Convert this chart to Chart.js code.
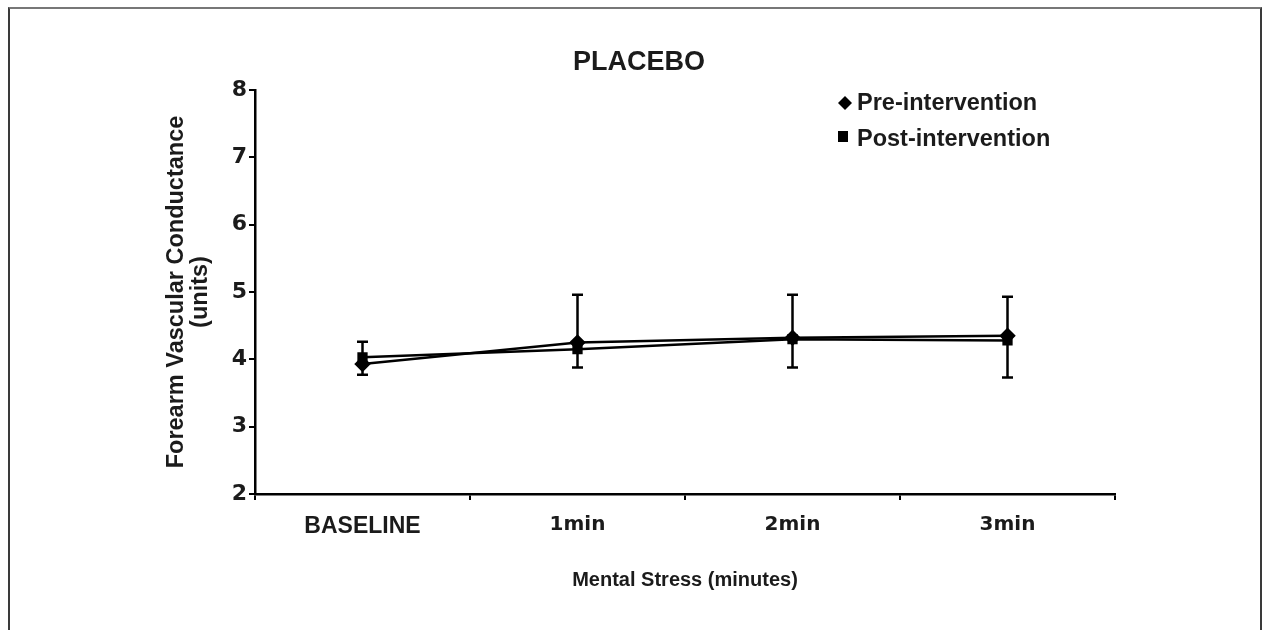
<!DOCTYPE html>
<html>
<head>
<meta charset="utf-8">
<script src="https://cdn.jsdelivr.net/npm/chart.js@4.4.0/dist/chart.umd.min.js"></script>
<style>
  body { margin: 0; background: #fff; }
  #wrap { position: relative; width: 1264px; height: 630px; overflow: hidden; }
  #marco { position: absolute; left: 8px; top: 7px; width: 1250px; height: 640px;
           border: 2px solid #3a3a3a; border-bottom: none; border-top-color: #777; }
  canvas { position: absolute; left: 0; top: 0; }
</style>
</head>
<body>
<div id="wrap">
  <div id="marco"></div>
  <canvas id="grafico" width="1264" height="630"></canvas>
</div>
<script>
//Datos del gráfico.
var categorias = ["BASELINE", "1min", "2min", "3min"];
var preIntervencion = [3.93, 4.25, 4.32, 4.35];
var postIntervencion = [4.03, 4.15, 4.30, 4.28];
var errorSuperior = [4.26, 4.96, 4.96, 4.93];
var errorInferior = [3.77, 3.88, 3.88, 3.73];
var ticksY = [2, 3, 4, 5, 6, 7, 8];

var tinta = '#1b1b1b';

//Barras de error, título y leyenda dibujados sobre el lienzo.
var extras = {
    id: 'extras',
    beforeDatasetsDraw: function(chart) {
        var ctx = chart.ctx;
        var x = chart.scales.x, y = chart.scales.y;
        ctx.save();
        ctx.strokeStyle = '#000';
        ctx.lineWidth = 2.5;
        for (var i = 0; i < categorias.length; i++) {
            var px = x.getPixelForValue(i);
            var top = y.getPixelForValue(errorSuperior[i]);
            var bot = y.getPixelForValue(errorInferior[i]);
            ctx.beginPath();
            ctx.moveTo(px, top); ctx.lineTo(px, bot);
            ctx.moveTo(px - 5.5, top); ctx.lineTo(px + 5.5, top);
            ctx.moveTo(px - 5.5, bot); ctx.lineTo(px + 5.5, bot);
            ctx.stroke();
        }
        ctx.restore();
    },
    afterDraw: function(chart) {
        var ctx = chart.ctx;
        ctx.save();
        ctx.fillStyle = tinta;
        ctx.textAlign = 'center';
        ctx.textBaseline = 'middle';
        ctx.font = 'bold 27px "Liberation Sans", Arial, sans-serif';
        ctx.fillText('PLACEBO', 639, 63);

        //Leyenda
        ctx.fillStyle = '#000';
        ctx.beginPath();
        ctx.moveTo(845, 96); ctx.lineTo(852, 103); ctx.lineTo(845, 110); ctx.lineTo(838, 103);
        ctx.closePath(); ctx.fill();
        ctx.fillRect(838, 131, 10, 11);
        ctx.fillStyle = tinta;
        ctx.textAlign = 'left';
        ctx.font = 'bold 23.5px "Liberation Sans", Arial, sans-serif';
        ctx.fillText('Pre-intervention', 857, 104);
        ctx.fillText('Post-intervention', 857, 140);
        ctx.restore();
    }
};

var ctx = document.getElementById('grafico').getContext('2d');
var miGrafico = new Chart(ctx, {
    type: 'line',
    data: {
        labels: categorias,
        datasets: [{
            label: 'Pre-intervention',
            data: preIntervencion,
            borderColor: '#000',
            backgroundColor: '#000',
            borderWidth: 2.5,
            pointStyle: 'rectRot',
            pointRadius: 6.5,
            pointBackgroundColor: '#000',
            pointBorderColor: '#000',
            tension: 0
        }, {
            label: 'Post-intervention',
            data: postIntervencion,
            borderColor: '#000',
            backgroundColor: '#000',
            borderWidth: 2.5,
            pointStyle: 'rect',
            pointRadius: 5.5,
            pointBackgroundColor: '#000',
            pointBorderColor: '#000',
            tension: 0
        }]
    },
    options: {
        responsive: false,
        animation: false,
        layout: { padding: { top: 90, right: 149, left: 0, bottom: 0 } },
        plugins: {
            legend: { display: false },
            title: { display: false },
            tooltip: { enabled: false }
        },
        scales: {
            x: {
                offset: true,
                grid: { offset: true, drawOnChartArea: false, color: '#000', lineWidth: 2, tickLength: 6 },
                border: { display: true, color: '#000', width: 2.5 },
                ticks: {
                    color: tinta,
                    padding: 13,
                    maxRotation: 0,
                    font: function(c) {
                        return c.index === 0
                            ? { family: '"Liberation Sans", Arial, sans-serif', size: 23, weight: 'bold' }
                            : { family: '"DejaVu Sans", sans-serif', size: 20, weight: 'bold' };
                    }
                },
                title: {
                    display: true,
                    text: 'Mental Stress (minutes)',
                    color: tinta,
                    font: { family: '"Liberation Sans", Arial, sans-serif', size: 20, weight: 'bold' },
                    padding: { top: 0, bottom: 38 }
                },
                afterFit: function(scale) { scale.height = 136; }
            },
            y: {
                min: 2,
                max: 8,
                afterBuildTicks: function(scale) {
                    scale.ticks = ticksY.map(function(v) { return { value: v }; });
                },
                grid: { drawOnChartArea: false, color: '#000', lineWidth: 2, tickLength: 6 },
                border: { display: true, color: '#000', width: 2.5 },
                ticks: {
                    color: tinta,
                    padding: 2,
                    font: { family: '"DejaVu Sans", sans-serif', size: 22, weight: 'bold' }
                },
                title: {
                    display: true,
                    text: ['Forearm Vascular Conductance', '(units)'],
                    color: tinta,
                    font: { family: '"Liberation Sans", Arial, sans-serif', size: 23.5, weight: 'bold', lineHeight: 1.05 },
                    padding: { top: 164, bottom: 0 }
                },
                afterFit: function(scale) { scale.width = 255; }
            }
        }
    },
    plugins: [extras]
});
</script>
</body>
</html>
